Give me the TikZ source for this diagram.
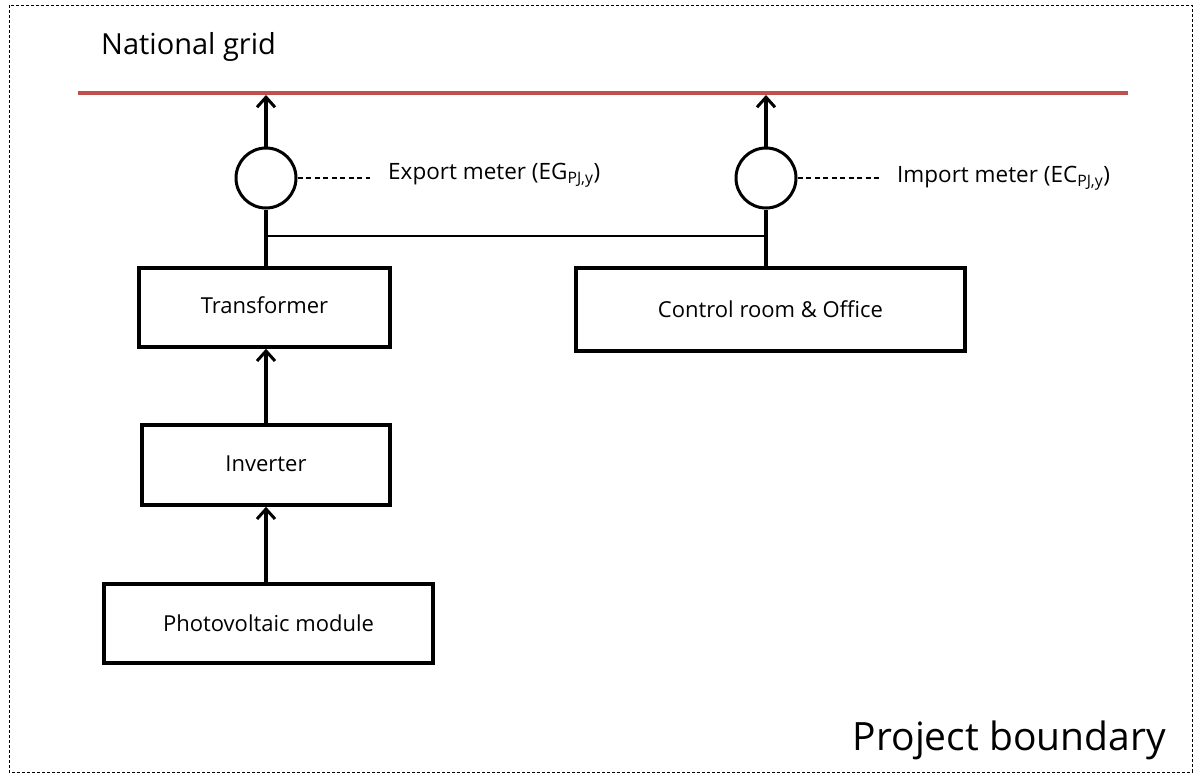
\documentclass[tikz,border=0pt]{standalone}
\usepackage{fontspec}
\setmainfont{Open Sans}
\usetikzlibrary{arrows.meta}
\definecolor{gridred}{HTML}{C0504D}
\begin{document}
\begin{tikzpicture}[x=1pt,y=-1pt,
  blk/.style={draw,line width=3.5pt,minimum height=0pt,font=\fontsize{22}{26}\selectfont},
  meter/.style={draw,circle,line width=3pt,minimum size=60pt,inner sep=0pt},
  flow/.style={line width=3.5pt,-{Straight Barb[length=10pt,width=18pt,line width=3pt]}},
  lbl/.style={font=\fontsize{22.5}{26}\selectfont,anchor=west,inner sep=0pt},
  leader/.style={line width=1.2pt,dash pattern=on 5pt off 3.5pt}]
\useasboundingbox (0,0) rectangle (1197,776);
\draw[line width=0.8pt,dash pattern=on 3pt off 2pt] (9,5) rectangle (1192,772);
\node[anchor=west,inner sep=0pt,font=\fontsize{29}{33}\selectfont] (ng) at (101,47) {National grid};
\draw[gridred,line width=4pt] (78,93) -- (1128,93);
\coordinate (g1) at (266,95);
\coordinate (g2) at (766,95);
\node[meter] (m1) at (266,178) {};
\node[meter] (m2) at (766,178) {};
\node[blk,minimum width=251pt,minimum height=79pt] (tr) at (264.5,307.5) {\raisebox{4pt}{Transformer}};
\node[blk,minimum width=389pt,minimum height=83pt] (cr) at (770.5,309.5) {Control room \& Office};
\node[blk,minimum width=248pt,minimum height=80pt] (inv) at (266,465) {\raisebox{2pt}{Inverter}};
\node[blk,minimum width=329pt,minimum height=79pt] (pv) at (268.5,623.5) {Photovoltaic module};
\draw[flow] (m1.north) -- (g1);
\draw[flow] (m2.north) -- (g2);
\draw[line width=3.5pt] (m1.south) -- (tr.north -| m1.south);
\draw[line width=3.5pt] (m2.south) -- (cr.north -| m2.south);
\coordinate (j1) at (266,236);
\coordinate (j2) at (766,236);
\draw[line width=2pt] (j1) -- (j2);
\draw[flow] (inv.north -| m1) -- (tr.south -| m1);
\draw[flow] (pv.north -| m1) -- (inv.south -| m1);
\node[lbl] (el) at (388,175) {Export meter (EG\textsubscript{PJ,y})};
\node[lbl] (il) at (897,178) {Import meter (EC\textsubscript{PJ,y})};
\draw[leader] (m1.east) -- ++(72,0);
\draw[leader] (m2.east) -- ++(84,0);
\node[anchor=east,inner sep=0pt,font=\fontsize{39}{44}\selectfont] (pb) at (1166,740) {Project boundary};
\end{tikzpicture}
\end{document}
